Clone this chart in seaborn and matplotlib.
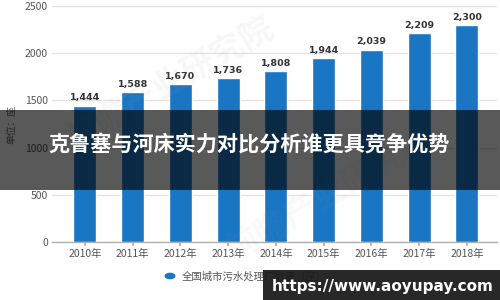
import matplotlib
matplotlib.use("Agg")
import matplotlib.pyplot as plt
import seaborn as sns
import pandas as pd
from matplotlib.patches import Rectangle, Circle

years = ["2010年", "2011年", "2012年", "2013年", "2014年", "2015年", "2016年", "2017年", "2018年"]
values = [1444, 1588, 1670, 1736, 1808, 1944, 2039, 2209, 2300]
y_ticks = [0, 500, 1000, 1500, 2000, 2500]
title = "克鲁塞与河床实力对比分析谁更具竞争优势"
legend_label = "全国城市污水处理厂数量（座）"
y_label = "单位：座"
url = "https://www.aoyupay.com"
watermark = "前瞻产业研究院"

sns.set_theme(style="white")
plt.rcParams['font.family'] = ['Noto Sans CJK SC', 'DejaVu Sans']

W, H = 500, 300
fig = plt.figure(figsize=(5, 3), dpi=100)
ax = fig.add_axes([52 / W, 1 - 242 / H, (497 - 52) / W, (242 - 6) / H])

df = pd.DataFrame({"year": years, "value": values})
bar_color = "#1a76c3"
sns.barplot(data=df, x="year", y="value", color=bar_color, width=0.48,
            saturation=1, ax=ax, zorder=3)

ax.set_xlim(-0.69, 8.63)
ax.set_ylim(0, 2500)
ax.set_yticks(y_ticks)
ax.set_yticklabels([str(t) for t in y_ticks])
ax.yaxis.grid(True, color="#e3e3e3", linewidth=1, zorder=0)
ax.set_axisbelow(True)
for s in ["top", "right", "left"]:
    ax.spines[s].set_visible(False)
ax.spines["bottom"].set_color("#b0b0b0")
ax.spines["bottom"].set_linewidth(1)
ax.tick_params(axis="y", length=0, labelsize=7.5, labelcolor="#555555", pad=3)
ax.tick_params(axis="x", length=3, color="#b0b0b0", labelsize=7.5,
               labelcolor="#555555", pad=2, bottom=True)
ax.set_xlabel("")
ax.set_ylabel(y_label, fontsize=7, color="#666666", labelpad=6)

for i, v in enumerate(values):
    ax.text(i, v + 35, f"{v:,}", ha="center", va="bottom", fontsize=6.8,
            fontweight="bold", color="#333333", family="DejaVu Sans", zorder=4)

# faint watermark
fig.text(0.34, 0.72, watermark, fontsize=24, color="#a0a0a0", alpha=0.08,
         rotation=30, ha="center", va="center", fontweight="bold")
fig.text(0.66, 0.35, watermark, fontsize=24, color="#a0a0a0", alpha=0.06,
         rotation=30, ha="center", va="center", fontweight="bold")

# legend
fig.patches.append(Circle((170 / W, 1 - 276 / H), 5.5 / W, transform=fig.transFigure,
                          facecolor=bar_color, edgecolor="none"))
fig.text(182 / W, 1 - 276 / H, legend_label, fontsize=7.5, color="#555555",
         ha="left", va="center")

# banner overlay
fig.patches.append(Rectangle((0, 1 - 190 / H), 1, 80 / H, transform=fig.transFigure,
                             facecolor="black", alpha=0.65, edgecolor="none", zorder=10))
fig.text(249 / W, 1 - 145 / H, title, fontsize=15.2, fontweight="bold", color="white",
         ha="center", va="center", zorder=11)

# url box
fig.patches.append(Rectangle((263 / W, 0), (W - 263) / W, 30 / H, transform=fig.transFigure,
                             facecolor="#1c1c1c", alpha=0.95, edgecolor="none", zorder=10))
fig.text(383 / W, 1 - 286 / H, url, fontsize=11, fontweight="bold", color="white",
         ha="center", va="center", family="DejaVu Sans", zorder=11)

fig.savefig("out.png", dpi=100)
